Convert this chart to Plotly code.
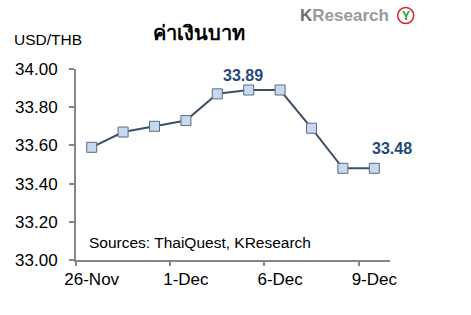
import plotly.graph_objects as go

dates = ["26-Nov", "29-Nov", "30-Nov", "1-Dec", "2-Dec", "3-Dec",
         "6-Dec", "7-Dec", "8-Dec", "9-Dec"]
usd_thb = [33.59, 33.67, 33.70, 33.73, 33.87, 33.89, 33.89, 33.69, 33.48, 33.48]
label_idx = [5, 9]
label_offsets = [(-6, 15), (18, 20)]
y_ticks = [33.0, 33.2, 33.4, 33.6, 33.8, 34.0]

FONT = "Arial, Liberation Sans, sans-serif"
AXIS_COL = "#868686"
LINE_COL = "#3f4f68"
LABEL_COL = "#1f497d"

fig = go.Figure()
fig.add_trace(go.Scatter(
    x=dates, y=usd_thb, mode="lines+markers",
    line=dict(color=LINE_COL, width=2),
    marker=dict(symbol="square", size=10, color="#c6d9f1",
                line=dict(color="#5a6a80", width=1)),
    showlegend=False, hoverinfo="skip", cliponaxis=False,
))
fig.add_trace(go.Scatter(x=[0], y=[33.0], xaxis="x2", mode="markers",
                         marker=dict(opacity=0), showlegend=False, hoverinfo="skip"))

for i, (dx, dy) in zip(label_idx, label_offsets):
    fig.add_annotation(x=dates[i], y=usd_thb[i], text=f"{usd_thb[i]:.2f}",
                       showarrow=False, xshift=dx, yshift=dy,
                       font=dict(family=FONT, size=16, color=LABEL_COL, weight="bold"))

fig.add_annotation(xref="paper", yref="paper", x=0.035, y=0.09, xanchor="left",
                   yanchor="middle", text="Sources: ThaiQuest, KResearch",
                   showarrow=False, font=dict(family=FONT, size=15.5, color="#000000"))

fig.add_annotation(xref="paper", yref="paper", x=-0.205, y=1.155, xanchor="left",
                   yanchor="middle", text="USD/THB", showarrow=False,
                   font=dict(family=FONT, size=15.5, color="#000000"))
fig.add_annotation(xref="paper", yref="paper", x=0.392, y=1.19, xanchor="center",
                   yanchor="middle", text="<b>ค่าเงินบาท</b>", showarrow=False,
                   font=dict(size=20, color="#000000"))
fig.add_annotation(xref="paper", yref="paper", x=1.003, y=1.28, xanchor="right",
                   yanchor="middle",
                   text="<span style='color:#6d6e70'>K</span>Research",
                   showarrow=False,
                   font=dict(family=FONT, size=17, color="#9a9a9a", weight="bold"))
fig.add_shape(type="circle", xref="paper", yref="paper", xsizemode="pixel",
              ysizemode="pixel", xanchor=1.05, yanchor=1.28,
              x0=-8, x1=8, y0=-8, y1=8,
              line=dict(color="#d2232a", width=1.5), fillcolor="#ffffff")
fig.add_annotation(xref="paper", yref="paper", x=1.05, y=1.28, xanchor="center",
                   yanchor="middle", text="<b>Y</b>", showarrow=False,
                   font=dict(family=FONT, size=12, color="#2e9a3a"))

fig.update_layout(
    width=471, height=315,
    margin=dict(l=76, r=81, t=69, b=55),
    paper_bgcolor="white", plot_bgcolor="white",
    xaxis=dict(type="category", range=[-0.5, 9.5], tickmode="linear", tick0=0, dtick=3,
               ticks="", showline=True, linecolor=AXIS_COL, linewidth=2,
               showgrid=False, zeroline=False, ticklabelstandoff=3,
               tickfont=dict(family=FONT, size=17, color="#000000")),
    xaxis2=dict(overlaying="x", range=[-0.5, 9.5], tickmode="array",
                tickvals=[-0.5, 2.5, 5.5, 8.5], ticks="outside", ticklen=5,
                tickcolor=AXIS_COL, tickwidth=1.5, showticklabels=False,
                showgrid=False, zeroline=False, showline=False, side="bottom"),
    yaxis=dict(range=[33.0, 34.0], tickvals=y_ticks, tickformat=".2f",
               ticks="outside", ticklen=5, tickcolor=AXIS_COL, tickwidth=1.5,
               showline=True, linecolor=AXIS_COL, linewidth=2,
               showgrid=False, zeroline=False, ticklabelstandoff=8,
               tickfont=dict(family=FONT, size=17, color="#000000")),
)

fig.write_html("out.html")
